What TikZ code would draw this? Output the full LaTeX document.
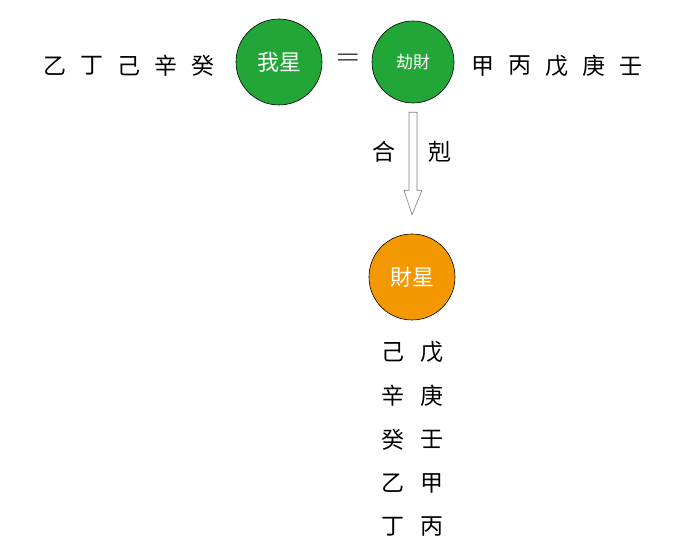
\documentclass[tikz,border=0pt]{standalone}
\usepackage{fontspec}
\newfontfamily\cjk{Noto Sans CJK TC}
\usetikzlibrary{calc}
\definecolor{stargreen}{HTML}{22A638}
\definecolor{starorange}{HTML}{F39800}
\tikzset{
  star/.style={circle,draw=black,line width=0.6pt,minimum size=86pt,inner sep=0pt,text=white,font=\cjk\fontsize{22}{22}\selectfont},
  stem/.style={font=\cjk\fontsize{23}{23}\selectfont,inner sep=0pt}
}
\begin{document}
\begin{tikzpicture}[x=1pt,y=-1pt]
\useasboundingbox (0,0) rectangle (681,553);
% the three stars
\node[star,fill=stargreen] (wo) at (279,62) {我星};
\node[star,fill=stargreen,minimum size=82pt,font=\cjk\fontsize{17}{17}\selectfont] (jie) at (413,62) {劫財};
\node[star,fill=starorange] (cai) at (412,277) {財星};
\node[font=\fontsize{32}{32}\selectfont] (eq) at (348,60) {=};

% stems beside the top row
\foreach \s [count=\i] in {乙,丁,己,辛,癸}
  \node[stem] (l\i) at (18+37*\i,66) {\s};
\foreach \s [count=\i] in {甲,丙,戊,庚,壬}
  \node[stem] (r\i) at (446+37*\i,66) {\s};

% hollow arrow
\draw[gray,fill=white,line width=0.6pt]
  ($(jie.south)+(-4,9)$) -- ($(jie.south)+(-4,87)$) -- ($(jie.south)+(-9,87)$)
  -- ($(cai.north)+(0,-19)$) -- ($(jie.south)+(9,87)$) -- ($(jie.south)+(4,87)$)
  -- ($(jie.south)+(4,9)$) -- cycle;
\node[stem] (he) at (384,152) {合};
\node[stem] (ke) at (440,152) {剋};

% stems under the wealth star
\foreach \a/\b [count=\i] in {己/戊,辛/庚,癸/壬,乙/甲,丁/丙}{
  \node[stem] (cl\i) at (393,309+43.5*\i) {\a};
  \node[stem] (cr\i) at (432,309+43.5*\i) {\b};
}
\end{tikzpicture}
\end{document}
